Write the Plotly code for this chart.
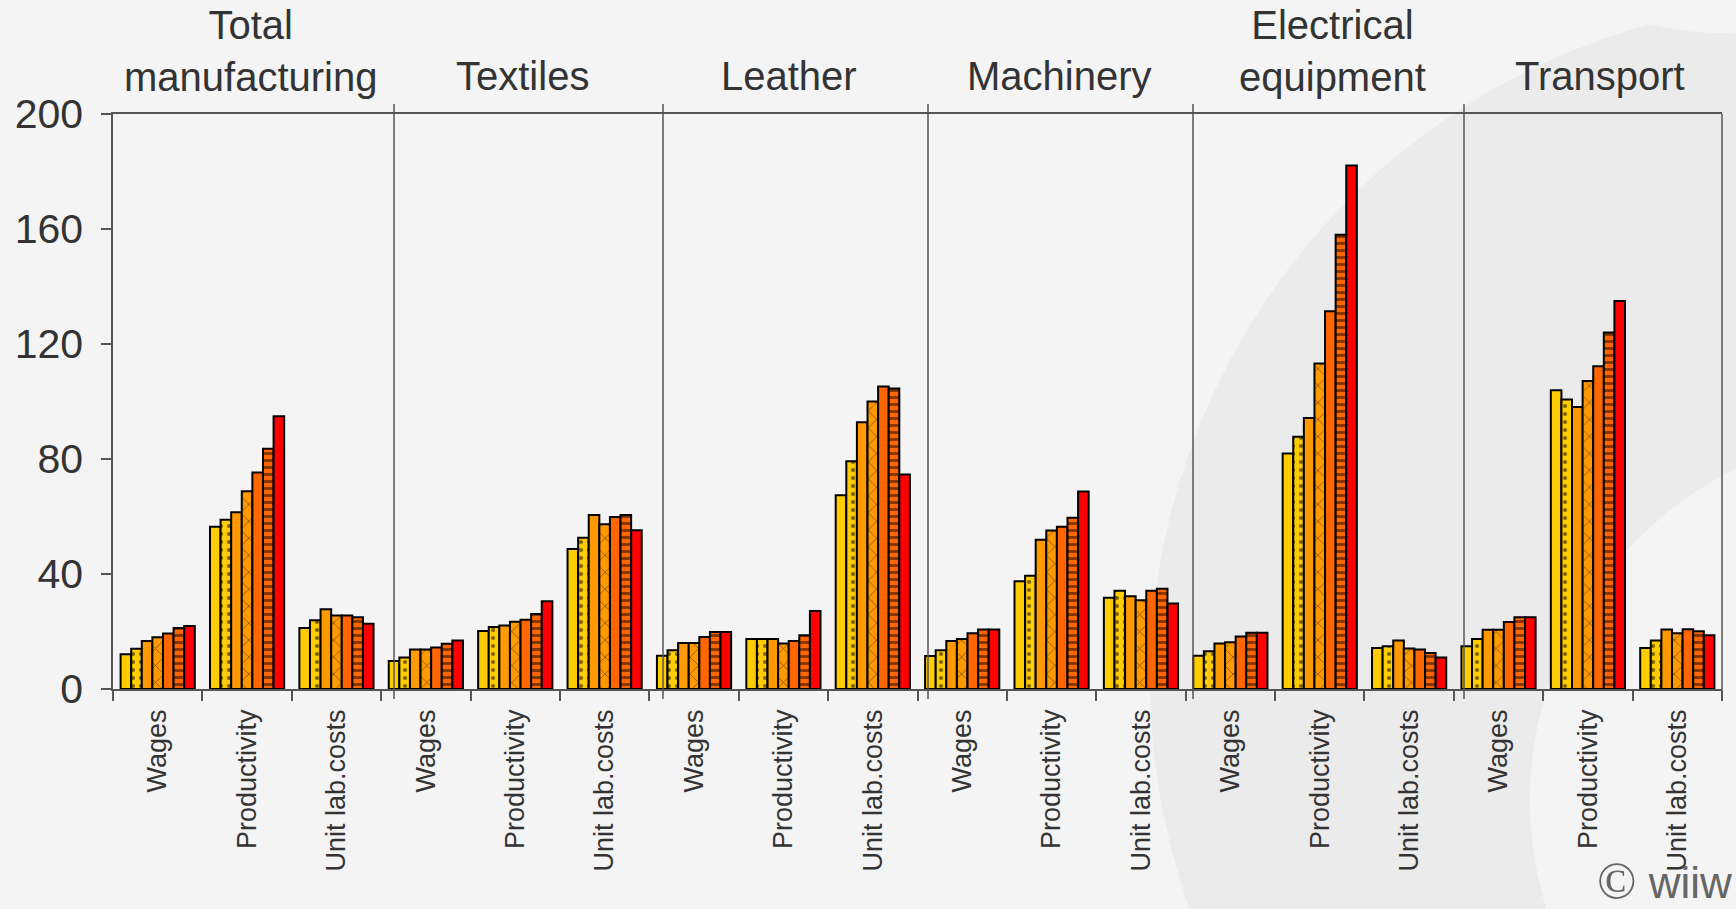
import plotly.graph_objects as go

# ---------------- data ----------------
sectors = ["Total<br>manufacturing", "Textiles", "Leather", "Machinery",
           "Electrical<br>equipment", "Transport"]
measures = ["Wages", "Productivity", "Unit lab.costs"]

# each sector: [Wages, Productivity, Unit lab.costs], 7 bars (series) each
total_mfg = [[12.1, 14.0, 16.7, 18.0, 19.3, 21.2, 21.9],
             [56.4, 58.9, 61.5, 68.8, 75.3, 83.6, 94.9],
             [21.2, 23.9, 27.7, 25.6, 25.6, 25.0, 22.7]]
textiles = [[9.7, 11.0, 13.7, 13.7, 14.4, 15.7, 16.9],
            [20.2, 21.6, 22.1, 23.4, 24.1, 26.1, 30.5],
            [48.7, 52.6, 60.5, 57.3, 59.8, 60.5, 55.2]]
leather = [[11.6, 13.5, 16.0, 16.0, 18.1, 19.8, 19.8],
           [17.4, 17.4, 17.4, 15.8, 16.7, 18.7, 27.1],
           [67.4, 79.2, 92.8, 100.0, 105.2, 104.5, 74.6]]
machinery = [[11.5, 13.5, 16.7, 17.4, 19.4, 20.7, 20.7],
             [37.5, 39.4, 51.9, 55.1, 56.4, 59.6, 68.7],
             [31.7, 34.2, 32.3, 30.9, 34.2, 34.9, 29.7]]
electrical = [[11.6, 13.1, 15.8, 16.3, 18.3, 19.6, 19.6],
              [81.9, 87.7, 94.3, 113.2, 131.4, 158.0, 182.1],
              [14.3, 14.9, 16.9, 14.1, 13.7, 12.5, 11.0]]
transport = [[14.9, 17.4, 20.6, 20.6, 23.3, 25.0, 25.0],
             [103.9, 100.7, 98.1, 107.1, 112.3, 124.0, 135.0],
             [14.3, 16.9, 20.7, 19.4, 20.8, 20.1, 18.7]]
sector_data = [total_mfg, textiles, leather, machinery, electrical, transport]

series_names = ["Series 1", "Series 2", "Series 3", "Series 4",
                "Series 5", "Series 6", "Series 7"]
series_colors = ["#FFCC00", "#FFCC00", "#FF9900", "#FF9900",
                 "#FF6600", "#FF6600", "#FF0000"]
series_patterns = ["", ".", "", "x", "", "-", ""]

y_ticks = [0, 40, 80, 120, 160, 200]

# ---------------- geometry (pixels) ----------------
W, H = 1736, 909
ML, MR, MT, MB = 113, 14, 114, 220
PW, PH = W - ML - MR, H - MT - MB

def px2paper_x(px):
    return (px - ML) / PW

def px2paper_y(py):
    return (H - MB - py) / PH

ncat = len(sectors) * len(measures)
slot = PW / ncat

def px2data_x(px):
    return (px - ML) / slot - 0.5

FONT = "Liberation Sans, Arial, sans-serif"
TXT = "#333333"
AX = "#555555"
BG = "#f4f4f4"
BAND = "#ebebeb"

# ---------------- traces ----------------
xs = list(range(ncat))
labels = [m for _ in sectors for m in measures]

fig = go.Figure()
for k, name in enumerate(series_names):
    ys = [sector_data[s][m][k] for s in range(len(sectors)) for m in range(len(measures))]
    pat = series_patterns[k]
    pattern = dict(shape=pat, fgcolor="black", bgcolor=series_colors[k])
    if pat == ".":
        pattern.update(size=8, solidity=0.22)
    elif pat == "x":
        pattern.update(size=12, solidity=0.12)
    elif pat == "-":
        pattern.update(size=7, solidity=0.4)
    fig.add_trace(go.Bar(
        x=xs, y=ys, name=name,
        marker=dict(color=series_colors[k],
                    line=dict(color="black", width=2),
                    pattern=pattern),
        showlegend=False, hoverinfo="y",
    ))

# ---------------- background logo shapes ----------------
shapes = []
def circle(cx, cy, r, color):
    return dict(type="circle", xref="paper", yref="paper",
                x0=px2paper_x(cx - r), x1=px2paper_x(cx + r),
                y0=px2paper_y(cy + r), y1=px2paper_y(cy - r),
                fillcolor=color, line=dict(width=0), layer="below")
shapes.append(circle(1830, 680, 680, BAND))
shapes.append(circle(1900, 800, 370, BG))
shapes.append(circle(1720, -260, 293, BG))

# dividers between sectors
divider_px = [394, 663, 928, 1193, 1464]
ext = 10 / PH
for dpx in divider_px:
    shapes.append(dict(type="line", xref="x", yref="paper",
                       x0=px2data_x(dpx), x1=px2data_x(dpx),
                       y0=-ext, y1=1 + ext,
                       line=dict(color=AX, width=1.5)))
# right edge line
shapes.append(dict(type="line", xref="paper", yref="paper",
                   x0=1, x1=1, y0=-ext * 0.6, y1=1,
                   line=dict(color=AX, width=1.5)))

# ---------------- annotations ----------------
title_px = [250, 522, 789, 1059, 1332, 1600]
annotations = []
for name, tpx in zip(sectors, title_px):
    two = "<br>" in name
    annotations.append(dict(
        text=name, xref="paper", yref="paper",
        x=px2paper_x(tpx), y=px2paper_y(51 if two else 76),
        xanchor="center", yanchor="middle", showarrow=False,
        font=dict(family=FONT, size=40, color=TXT), align="center"))
annotations.append(dict(
    text="<span style='font-family:Liberation Serif, Times New Roman, serif;font-size:52px'>©</span>\u00a0wiiw",
    xref="paper", yref="paper",
    x=px2paper_x(1734), y=px2paper_y(880), xanchor="right", yanchor="middle",
    showarrow=False, font=dict(family=FONT, size=44, color="#666666")))

fig.update_layout(
    width=W, height=H,
    margin=dict(l=ML, r=MR, t=MT, b=MB, pad=0),
    paper_bgcolor=BG, plot_bgcolor="rgba(0,0,0,0)",
    barmode="group", bargap=0.17, bargroupgap=0,
    shapes=shapes, annotations=annotations,
    font=dict(family=FONT, color=TXT),
)
fig.update_xaxes(
    range=[-0.5, ncat - 0.5], tickmode="array", tickvals=xs, ticktext=labels,
    tickangle=-90, ticks="", tickfont=dict(family=FONT, size=27, color=TXT),
    showline=True, linecolor=AX, linewidth=1.5, mirror=True,
    showgrid=False, zeroline=False, ticklabelstandoff=8,
    minor=dict(tickmode="array", tickvals=[i - 0.5 for i in range(ncat + 1)],
               ticks="outside", ticklen=10, tickcolor=AX, tickwidth=1.5,
               showgrid=False),
)
fig.update_yaxes(
    range=[0, 200], tickmode="array", tickvals=y_ticks,
    ticks="outside", ticklen=10, tickcolor=AX, tickwidth=1.5,
    tickfont=dict(family=FONT, size=41, color=TXT), ticklabelstandoff=10,
    showline=True, linecolor=AX, linewidth=1.5,
    showgrid=False, zeroline=False,
)

fig.write_html(
    "out.html",
    config={"displayModeBar": False},
    post_script="document.body.style.margin='0';"
                "document.body.style.background='#f4f4f4';",
)
